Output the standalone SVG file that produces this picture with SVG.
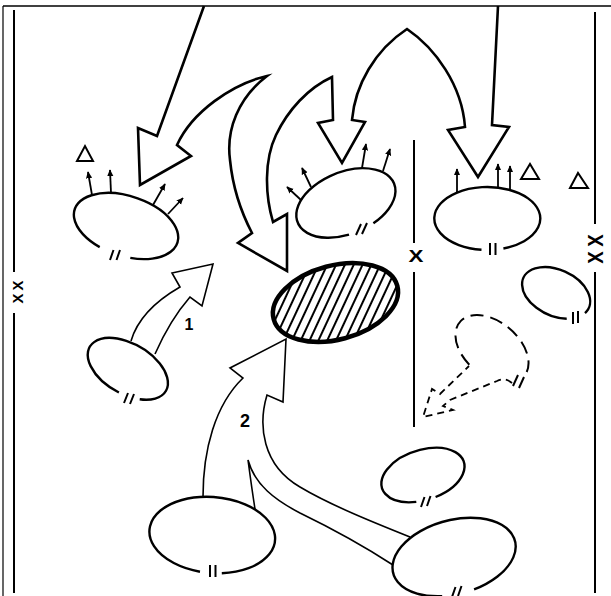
<svg xmlns="http://www.w3.org/2000/svg" width="611" height="596" viewBox="0 0 611 596">
<style>
.ln{stroke:#000;fill:none}
.ell{fill:none;stroke:#000;stroke-width:2.4}
.mk{stroke:#000;stroke-width:2;fill:none}
.sa{stroke:#000;stroke-width:1.8;fill:none;marker-end:url(#ah)}
.tri{fill:none;stroke:#000;stroke-width:2;stroke-linejoin:miter}
.big{fill:none;stroke:#000;stroke-width:2.6;stroke-linejoin:miter;stroke-miterlimit:10}
.thin{fill:none;stroke:#000;stroke-width:1.6;stroke-linejoin:miter;stroke-miterlimit:10}
.dash{fill:none;stroke:#000;stroke-width:2;stroke-dasharray:13 7}
.dsh2{fill:none;stroke:#000;stroke-width:1.8;stroke-dasharray:7 5}
.lbl{font-family:"Liberation Sans",Arial,sans-serif;font-weight:bold;fill:#000}
</style>
<defs>
<marker id="ah" viewBox="0 0 10 10" refX="9" refY="5" markerWidth="7" markerHeight="7" markerUnits="userSpaceOnUse" orient="auto">
<path d="M0,0.5 L10,5 L0,9.5 z" fill="#000"/>
</marker>
<pattern id="hatch" patternUnits="userSpaceOnUse" width="8" height="8" patternTransform="rotate(40)">
<line x1="4" y1="-1" x2="4" y2="9" stroke="#000" stroke-width="2"/>
</pattern>
</defs>
<rect width="611" height="596" fill="#fff"/>

<g id="frame">
<line class="ln" x1="3" y1="6" x2="3" y2="596" stroke-width="1.2"/>
<line class="ln" x1="3" y1="6" x2="611" y2="6" stroke-width="1.5"/>
<line class="ln" x1="14" y1="10" x2="14" y2="272" stroke-width="2"/>
<line class="ln" x1="14" y1="313" x2="14" y2="593" stroke-width="2"/>
<line class="ln" x1="595" y1="12" x2="595" y2="224" stroke-width="2"/>
<line class="ln" x1="595" y1="272" x2="595" y2="593" stroke-width="2"/>
<line class="ln" x1="414" y1="140" x2="414" y2="243" stroke-width="2"/>
<line class="ln" x1="414" y1="272" x2="414" y2="427" stroke-width="2"/>
<text class="lbl" font-size="15" text-anchor="middle" letter-spacing="2.8" transform="translate(17.5,292) rotate(-90)" x="1.4" y="5.4">XX</text>
<text class="lbl" font-size="22" text-anchor="middle" letter-spacing="5.3" transform="translate(595,249) rotate(-90) scale(0.85,1)" x="2.6" y="7.9">XX</text>
<text class="lbl" font-size="16" text-anchor="middle" transform="translate(416,0) scale(1.4,1)" x="0" y="262">X</text>
</g>

<g id="connectors">
<path class="big" d="M204,6 L157,136 L138,128 L140,185 L191,156 L177,145 C192,112 232,84 267,76 C238,98 226,130 230,160 C233,190 241,212 252,233 L238,243 L287,271 L287,214 L273,222 C265,195 264,160 276,135 C288,110 308,88 332,77 L333,120 L318,123 L342,163 L365,122 L352,120 C355,85 375,50 407,29 C435,48 462,85 465,127 L448,130 L478,177 L509,127 L492,125 L498,6"/>
<path class="thin" d="M131,341 Q140,310 180,287 L172,273 L213,264 L202,306 L190,297 Q170,320 155,354"/>
<path class="thin" d="M203,497 C203,450 215,405 243,378 L230,368 L286,339 L283,402 L267,395 C258,425 262,465 300,487 C330,505 375,523 410,537"/>
<path class="thin" d="M255,509 C252,490 250,475 248,460 C255,485 275,500 300,513 C335,530 370,550 393,565"/>
<path class="dsh2" d="M512,383 Q505,377 497,381 L450,400 L443,406 L453,410 L423,417 L432,389 L440,394 L469,366"/>
</g>

<g id="node-a">
<path class="ell" d="M99.7,247.1 A54,30 18 1 1 130.3,257.9"/>
<path class="mk" d="M110,260 L113.5,250 M116.5,260 L120,250"/>
<line class="sa" x1="92" y1="195" x2="88" y2="172"/>
<line class="sa" x1="111" y1="193" x2="110" y2="170"/>
<line class="sa" x1="153" y1="205" x2="165" y2="184"/>
<line class="sa" x1="168" y1="214" x2="183" y2="198"/>
<polygon class="tri" points="77,161 85,146 93,161"/>
</g>

<g id="node-b">
<path class="ell" d="M349,234.7 A52,31 -22 1 1 373.4,223.3"/>
<path class="mk" d="M356,235 L361,224 M362,234 L367,223"/>
<line class="sa" x1="362" y1="168" x2="366" y2="144"/>
<line class="sa" x1="383" y1="171" x2="390" y2="149"/>
<line class="sa" x1="311" y1="187" x2="302" y2="168"/>
<line class="sa" x1="301" y1="200" x2="287" y2="187"/>
</g>

<g id="node-c">
<path class="ell" d="M481.5,249.8 A53,31.5 0 1 1 503.4,248.5"/>
<path class="mk" d="M490,243 L490,255 M495.5,243 L495.5,255"/>
<line class="sa" x1="457" y1="192" x2="457" y2="169"/>
<line class="sa" x1="498" y1="188" x2="498" y2="164"/>
<line class="sa" x1="510" y1="190" x2="510" y2="166"/>
<polygon class="tri" points="521,179 530,164 539,179"/>
<polygon class="tri" points="570,188 578,173 588,188"/>
</g>

<g id="node-d">
<path class="ell" d="M566.7,318.7 A36,23 25 1 1 585,313.1"/>
<path class="mk" d="M573,312 L573,324 M578,311 L578,323"/>
</g>

<g id="node-target">
<ellipse cx="335.5" cy="302.5" rx="64" ry="37" transform="rotate(-15 335.5 302.5)" fill="url(#hatch)" stroke="#000" stroke-width="4.5"/>
</g>

<g id="node-e">
<path class="ell" d="M118.9,392.5 A44,25 30 1 1 139.7,399.3"/>
<path class="mk" d="M124,403 L128,393 M130,404 L134,394"/>
<text class="lbl" font-size="16" x="189" y="330" text-anchor="middle">1</text>
</g>

<g id="node-f">
<path class="ell" d="M200,571.7 A63,38 5 1 1 221.8,573.2"/>
<path class="mk" d="M210,565 L210,577 M215.5,565 L215.5,577"/>
<text class="lbl" font-size="18" x="245" y="427" text-anchor="middle">2</text>
</g>

<g id="node-g">
<path class="ell" d="M442.2,596.2 A63,37 -15 1 1 474.1,589.4"/>
<path class="mk" d="M452,597 L455.5,587 M458,596 L461.5,586"/>
</g>

<g id="node-h">
<path class="ell" d="M416.3,501.9 A43,25 -18 1 1 435.6,497"/>
<path class="mk" d="M421,507 L424.5,497 M427,506 L430.5,496"/>
</g>

<g id="node-i">
<path class="dash" d="M469.3,364.7 A42,27 40 1 1 526.7,372"/>
<path class="mk" d="M513,386 L518,375 M519,388 L524,377"/>
</g>
</svg>
